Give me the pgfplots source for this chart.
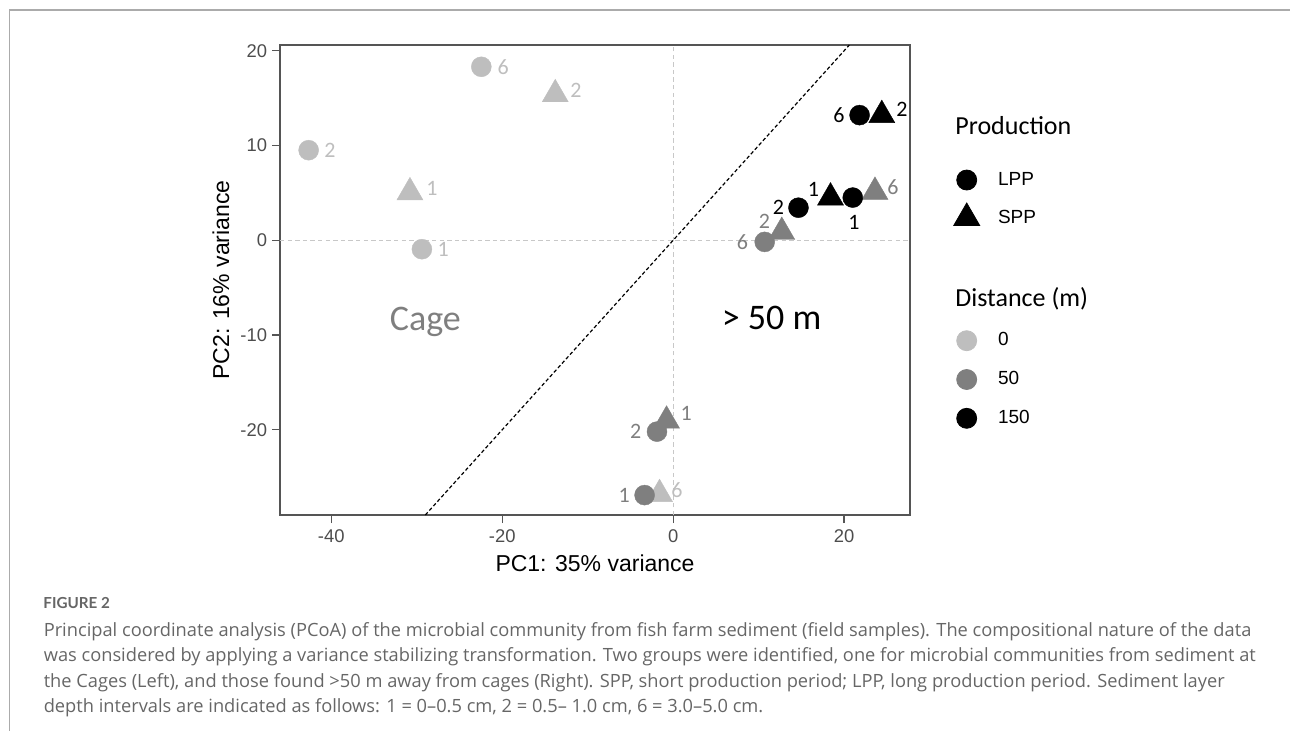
\documentclass[border=0pt]{standalone}
\usepackage{fontspec}
\setmainfont{Liberation Sans}
\newfontfamily\calfont{Carlito}
\newfontfamily\capfont{Open Sans}
\newfontfamily\figfont{Lato}
\usepackage{pgfplots}
\pgfplotsset{compat=1.18}
\usepackage{pgfplotstable}
\definecolor{lg}{HTML}{BEBEBE}
\definecolor{mg}{HTML}{7F7F7F}
\definecolor{tickgray}{HTML}{4D4D4D}
\definecolor{axgray}{HTML}{555555}
\definecolor{gridgray}{HTML}{C8C8C8}
\definecolor{framegray}{HTML}{ABABAB}
\definecolor{capgray}{HTML}{666666}

\pgfplotstableread{
x y lbl dx dy
-22.45 18.3 6 11 0
-42.65 9.5 2 10.6 0
-29.4 -0.95 1 10.6 0
}\lightcirc
\pgfplotstableread{
x y lbl dx dy
-13.8 15.4 2 10.3 2.2
-30.8 5.05 1 11 2.2
-1.6 -26.8 6 8.7 2
}\lighttri
\pgfplotstableread{
x y lbl dx dy
-1.9 -20.2 2 -10.6 0
-3.35 -26.9 1 -10.2 0
10.7 -0.18 6 -11.1 0
}\medcirc
\pgfplotstableread{
x y lbl dx dy
-0.78 -19.05 1 9.8 3.5
12.7 0.87 2 -8.7 5.4
23.6 5.1 6 9 2.5
}\medtri
\pgfplotstableread{
x y lbl dx dy
21.8 13.2 6 -10.3 0
14.65 3.43 2 -10 0
21.0 4.5 1 0.6 -12.2
}\blackcirc
\pgfplotstableread{
x y lbl dx dy
24.4 13.2 2 10.1 3
18.4 4.5 1 -8.5 4
}\blacktri

\pgfplotsset{
  lab/.style={only marks, color=#1, forget plot,
    mark options={line width=0.2pt},
    point meta=explicit symbolic,
    visualization depends on={\thisrow{dx}\as\lbldx},
    visualization depends on={\thisrow{dy}\as\lbldy},
    nodes near coords={\pgfplotspointmeta},
    nodes near coords style={anchor=center, inner sep=0pt, xshift=\lbldx pt, yshift=\lbldy pt,
      font=\calfont\fontsize{11}{13}\selectfont, text=#1}},
  circ/.style={mark=*, mark size=5pt},
  tri/.style={mark=triangle*, mark size=7.5pt},
}

\begin{document}
\begin{tikzpicture}
\path[use as bounding box] (0,0) rectangle (645pt,-365.5pt);
\draw[framegray, line width=0.7pt] (4.7pt,-365.5pt) -- (4.7pt,-5pt) -- (645pt,-5pt);

\begin{axis}[
  at={(140pt,-257.5pt)}, anchor=south west,
  width=315pt, height=235pt, scale only axis,
  xmin=-46, xmax=27.7, ymin=-29, ymax=20.6,
  xtick={-40,-20,0,20}, xticklabels={-40,-20,0,20},
  ytick={-20,-10,0,10,20}, yticklabels={-20,-10,0,10,20},
  xtick pos=left, ytick pos=left,
  tick align=outside, major tick length=4pt,
  axis line style={draw=axgray, line width=0.7pt},
  every tick/.style={axgray, line width=0.7pt},
  ticklabel style={font=\fontsize{9.2}{10}\selectfont, text=tickgray, inner sep=2.3pt},
  xticklabel style={yshift=-1pt},
  xlabel={PC1: 35\% variance}, ylabel={PC2: 16\% variance},
  label style={font=\fontsize{11.5}{13}\selectfont, text=black},
  xlabel style={at={(axis description cs:0.5,-0.1021)}, anchor=center},
  ylabel style={at={(axis description cs:-0.0937,0.5)}, anchor=center},
  clip=false,
  legend style={at={(axis description cs:1.0694,0.734)}, anchor=north west,
    draw=none, fill=none, inner sep=0pt, outer sep=0pt,
    row sep=6.5pt, column sep=9.15pt,
    font=\fontsize{9.5}{11}\selectfont,
    nodes={inner sep=0pt, outer sep=0pt}},
  legend cell align=left,
  legend image code/.code={\draw[#1] plot coordinates {(0pt,0pt)};},
]
\addplot[gridgray, line width=0.6pt, dash pattern=on 2.2pt off 1.6pt, forget plot] coordinates {(0,-29) (0,20.6)};
\addplot[gridgray, line width=0.6pt, dash pattern=on 2.2pt off 1.6pt, forget plot] coordinates {(-46,0) (27.7,0)};
\addplot[black, line width=0.6pt, dash pattern=on 1.8pt off 1.2pt, forget plot] coordinates {(-29,-29) (20.6,20.6)};

\addplot[lab=lg, tri] table[x=x, y=y, meta=lbl] {\lighttri};
\addplot[lab=mg, tri] table[x=x, y=y, meta=lbl] {\medtri};
\addplot[lab=black, tri] table[x=x, y=y, meta=lbl] {\blacktri};
\addplot[lab=lg, circ] table[x=x, y=y, meta=lbl] {\lightcirc};
\addplot[lab=mg, circ] table[x=x, y=y, meta=lbl] {\medcirc};
\addplot[lab=black, circ] table[x=x, y=y, meta=lbl] {\blackcirc};

\node[anchor=base, inner sep=0pt, text=mg, font=\calfont\fontsize{18}{20}\selectfont] at (axis cs:-29,-9.5) {Cage};
\node[anchor=base, inner sep=0pt, text=black, font=\calfont\fontsize{18}{20}\selectfont] at (axis cs:11.5,-9.4) {> 50 m};

\addlegendimage{black, mark=*, mark size=5pt}
\addlegendentry{LPP}
\addlegendimage{black, mark=triangle*, mark size=7.5pt}
\addlegendentry{SPP}
\end{axis}

\begin{axis}[
  at={(140pt,-257.5pt)}, anchor=south west,
  width=315pt, height=235pt, scale only axis, hide axis,
  xmin=0, xmax=1, ymin=0, ymax=1,
  legend style={at={(axis description cs:1.0741,0.3921)}, anchor=north west,
    draw=none, fill=none, inner sep=0pt, outer sep=0pt,
    row sep=9.4pt, column sep=10.65pt,
    font=\fontsize{9.5}{11}\selectfont,
    nodes={inner sep=0pt, outer sep=0pt}},
  legend cell align=left,
  legend image code/.code={\draw[#1] plot coordinates {(0pt,0pt)};},
]
\addlegendimage{lg, mark=*, mark size=5pt}
\addlegendentry{0}
\addlegendimage{mg, mark=*, mark size=5pt}
\addlegendentry{50}
\addlegendimage{black, mark=*, mark size=5pt}
\addlegendentry{150}
\end{axis}

\node[anchor=base west, inner sep=0pt, font=\calfont\fontsize{13}{15}\selectfont] at (477.5pt,-67.5pt) {Production};
\node[anchor=base west, inner sep=0pt, font=\calfont\fontsize{13}{15}\selectfont] at (477.5pt,-153.3pt) {Distance (m)};

\begin{scope}[every node/.style={anchor=base west, inner sep=0pt, text=capgray, font=\capfont\fontsize{9.13}{11}\selectfont}]
\node[font=\figfont\bfseries\fontsize{7.6}{9}\selectfont] at (21.5pt,-304.2pt) {FIGURE 2};
\node at (21.7pt,-318pt) {Principal coordinate analysis (PCoA) of the microbial community from fish farm sediment (field samples). The compositional nature of the data};
\node at (21.7pt,-330.75pt) {was considered by applying a variance stabilizing transformation. Two groups were identified, one for microbial communities from sediment at};
\node at (21.7pt,-343.5pt) {the Cages (Left), and those found >50 m away from cages (Right). SPP, short production period; LPP, long production period. Sediment layer};
\node at (21.7pt,-356.25pt) {depth intervals are indicated as follows: 1 = 0–0.5 cm, 2 = 0.5– 1.0 cm, 6 = 3.0–5.0 cm.};
\end{scope}
\end{tikzpicture}
\end{document}
